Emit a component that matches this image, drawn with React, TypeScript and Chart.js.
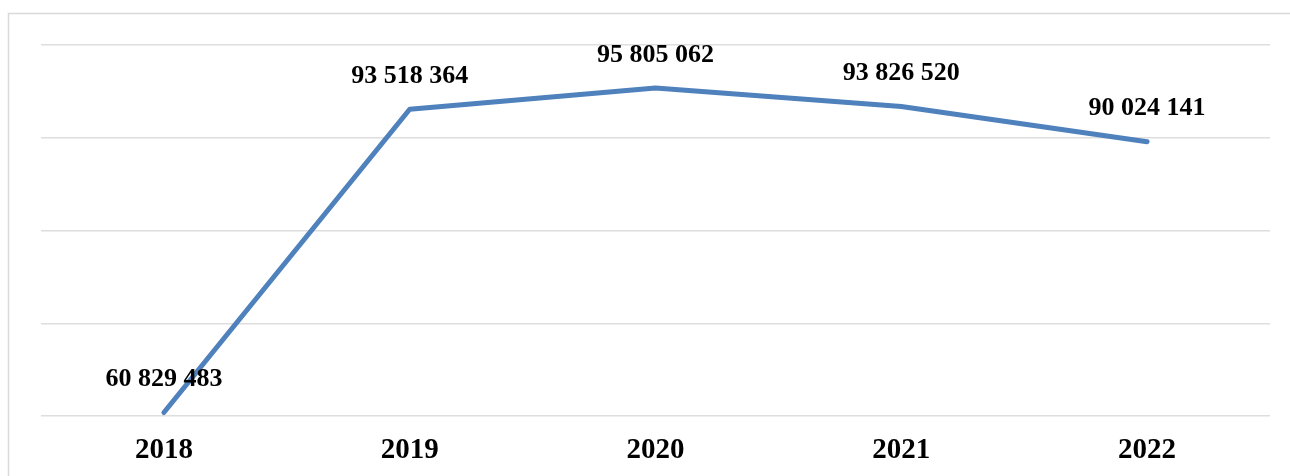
import React, { useEffect, useRef } from "react";
import { Chart, registerables } from "chart.js";

Chart.register(...registerables);

const years = ["2018", "2019", "2020", "2021", "2022"];
const values = [60829483, 93518364, 95805062, 93826520, 90024141];

const Y_MIN = 60450000;
const Y_MAX = 100450000;
const Y_STEP = 10000000;

const FONT = '"Liberation Serif", "Times New Roman", serif';

function fmt(v: number): string {
  return String(v).replace(/\B(?=(\d{3})+(?!\d))/g, " ");
}

const borderPlugin = {
  id: "outerBorder",
  beforeDraw(chart: any) {
    const ctx = chart.ctx;
    ctx.save();
    ctx.fillStyle = "#ffffff";
    ctx.fillRect(0, 0, chart.width, chart.height);
    ctx.strokeStyle = "#d9d9d9";
    ctx.lineWidth = 1.5;
    ctx.strokeRect(8.5, 13.5, chart.width + 50, chart.height + 50);
    ctx.restore();
  },
};

const labelPlugin = {
  id: "valueLabels",
  afterDatasetsDraw(chart: any) {
    const ctx = chart.ctx;
    const meta = chart.getDatasetMeta(0);
    ctx.save();
    ctx.font = `bold 26px ${FONT}`;
    ctx.fillStyle = "#000000";
    ctx.textAlign = "center";
    ctx.textBaseline = "middle";
    meta.data.forEach((pt: any, i: number) => {
      ctx.fillText(fmt(values[i]), pt.x, pt.y - 33);
    });
    ctx.restore();
  },
};

export default function App() {
  const ref = useRef<HTMLCanvasElement | null>(null);

  useEffect(() => {
    if (!ref.current) return;
    const chart = new Chart(ref.current, {
      type: "line",
      data: {
        labels: years,
        datasets: [
          {
            data: values,
            borderColor: "#4f81bd",
            borderWidth: 5,
            borderCapStyle: "round",
            borderJoinStyle: "round",
            pointRadius: 0,
            tension: 0,
            fill: false,
          },
        ],
      },
      options: {
        responsive: false,
        animation: false,
        layout: { padding: { left: 41, right: 20, top: 45, bottom: 0 } },
        plugins: {
          legend: { display: false },
          tooltip: { enabled: false },
          title: { display: false },
        },
        scales: {
          x: {
            offset: true,
            grid: { display: false, drawTicks: false },
            border: { display: false },
            ticks: {
              color: "#000000",
              padding: 17,
              font: { family: FONT, size: 29, weight: "bold" },
              maxRotation: 0,
            },
            afterFit(scale: any) {
              scale.height = 60;
            },
          },
          y: {
            min: Y_MIN,
            max: Y_MAX,
            display: true,
            grid: { color: "#dedede", lineWidth: 1.5, drawTicks: false },
            border: { display: false },
            ticks: { display: false },
            afterBuildTicks(scale: any) {
              const t = [];
              for (let v = Y_MIN; v <= Y_MAX + 1; v += Y_STEP) t.push({ value: v });
              scale.ticks = t;
            },
            afterFit(scale: any) {
              scale.width = 0;
            },
          },
        },
      },
      plugins: [borderPlugin, labelPlugin],
    });
    return () => chart.destroy();
  }, []);

  return (
    <div style={{ position: "absolute", left: 0, top: 0, width: 1290, height: 476 }}>
      <canvas ref={ref} width={1290} height={476} />
    </div>
  );
}
